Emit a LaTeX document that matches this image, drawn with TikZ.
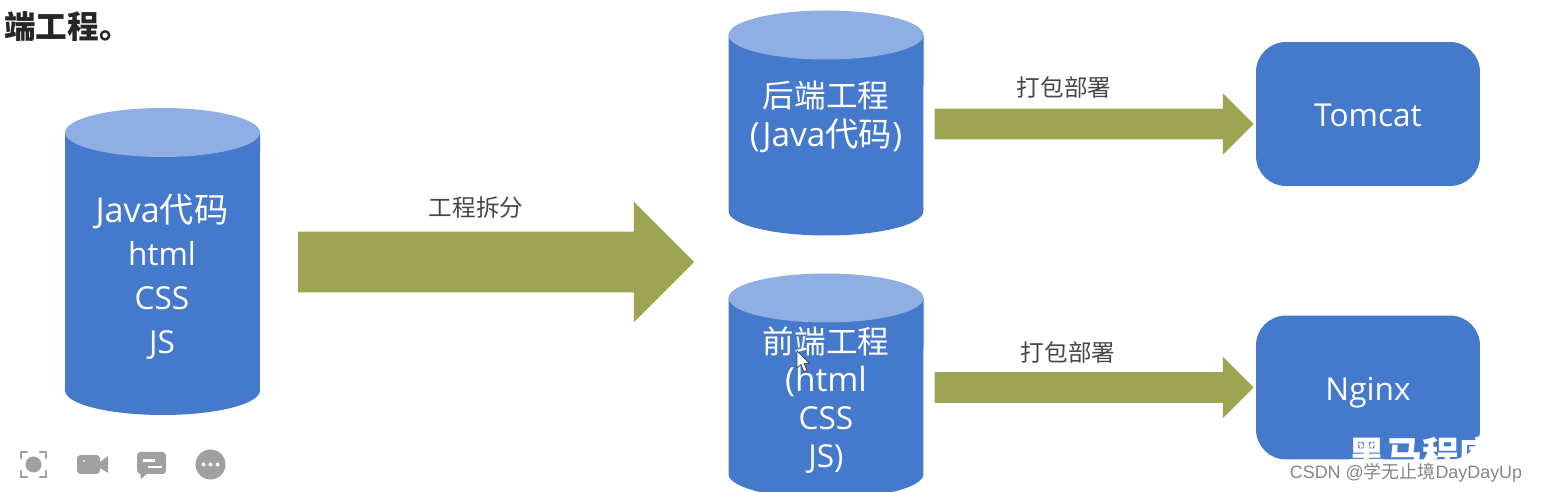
\documentclass[tikz,border=0pt]{standalone}
\usepackage{fontspec}
\setmainfont{Open Sans}
\newfontfamily\cjk{Noto Sans CJK SC}
\newfontfamily\csdnfont{Liberation Sans}
\usetikzlibrary{shapes.arrows}
\definecolor{bodyblue}{HTML}{4479CC}
\definecolor{topblue}{HTML}{8FAEE3}
\definecolor{arrowgreen}{HTML}{9DA553}
\definecolor{icongray}{HTML}{A0A0A2}
\tikzset{
  bigarrow/.style={single arrow,fill=arrowgreen,inner sep=0pt,inner ysep=0.6cm,text height=0pt,text depth=0pt,
    single arrow head extend=0.6cm,minimum height=7.92cm},
  smallarrow/.style={single arrow,fill=arrowgreen,inner sep=0pt,inner ysep=0.3cm,text height=0pt,text depth=0pt,
    single arrow head extend=0.31cm,minimum height=6.38cm},
  serverbox/.style={rounded corners=0.6cm,fill=bodyblue,text=white,font=\fontsize{18}{22}\selectfont,
    minimum width=4.48cm,minimum height=2.88cm,inner sep=0pt,text height=14.8pt,text depth=0pt},
  whitetext/.style={text=white,align=center,font=\fontsize{18}{24.8}\selectfont},
  steplabel/.style={text=black!72,font=\cjk\fontsize{13.4}{16}\selectfont}
}
\begin{document}
\begin{tikzpicture}[x=0.02cm,y=-0.02cm]
\useasboundingbox (0,0) rectangle (1545,492);
\clip (0,0) rectangle (1545,492);
\node [anchor=west,text=black!85,inner sep=0pt,font=\cjk\bfseries\fontsize{18}{20}\selectfont] (title) at (4,27) {端工程。};
% cylinders
\foreach \cx/\ytop/\ybot in {162.5/132.5/390.5, 826/35/211, 826/298/474} {
  \fill [bodyblue] (\cx-97.5,\ytop) -- (\cx-97.5,\ybot) arc [start angle=180,end angle=360,x radius=1.95cm,y radius=0.49cm] -- (\cx+97.5,\ytop) -- cycle;
  \fill [topblue] (\cx,\ytop) ellipse [x radius=1.95cm,y radius=0.49cm];
}
\node [whitetext] (wholetext) at (162,276.5) {{\fontsize{19.5}{24.8}\selectfont Java{\cjk 代码}}\\html\\CSS\\JS};
\node [whitetext,font=\fontsize{18}{22.2}\selectfont] (backendtext) at (826,117) {{\cjk 后端工程}\\{\fontsize{19}{22.2}\selectfont (Java{\cjk 代码})}};
\node [whitetext,font=\fontsize{18}{21.7}\selectfont] (frontendtext) at (826,400) {{\cjk 前端工程}\\{\fontsize{19}{21.7}\selectfont (html}\\CSS\\JS)};
% arrows
\node [bigarrow] (split) at (481,262) {};
\node [smallarrow] (packback) at (1086.5,124) {};
\node [smallarrow] (packfront) at (1086.5,387.5) {};
\node [steplabel] (splitlabel) at (476,208) {工程拆分};
\node [steplabel] (backlabel) at (1064,87) {打包部署};
\node [steplabel] (frontlabel) at (1068,352) {打包部署};
% servers
\node [serverbox] (tomcat) at (1368,114) {Tomcat};
\node [serverbox] (nginx) at (1368,387.5) {Nginx};
\node [text=white,inner sep=0pt,font=\cjk\bfseries\fontsize{21}{24}\selectfont] (brand) at (1422,454) {黑马程序};
\node [text=black!48,inner sep=0pt,font=\csdnfont\fontsize{10.2}{12}\selectfont] (csdn) at (1406,472.5) {CSDN @{\cjk 学无止境}DayDayUp};
% mouse pointer
\draw [black!75,fill=white,line width=0.4pt] (797,351) -- (797,368) -- (801,364.5) -- (804,372) -- (807,370.5) -- (804,363.5) -- (809,363) -- cycle;
% toolbar icons
\draw [icongray,line width=1.6pt,line cap=round] (21,458) -- (21,452) -- (27,452) (40,452) -- (46,452) -- (46,458) (46,471) -- (46,477) -- (40,477) (27,477) -- (21,477) -- (21,471);
\fill [icongray] (33.5,464.5) circle (8);
\fill [icongray,rounded corners=2pt] (77,455) rectangle (100,474);
\fill [icongray] (100,462) -- (108,456) -- (108,473) -- (100,468) -- cycle;
\fill [white] (84,461) circle (1);
\fill [icongray,rounded corners=2pt] (137,452) rectangle (166,474);
\fill [icongray] (140,472) -- (141,479) -- (149,472) -- cycle;
\draw [white,line width=1.2pt] (143,460.5) -- (155,460.5) (148,467) -- (162,467);
\fill [icongray] (210.5,464.5) circle (15);
\fill [white] (203.5,464.5) circle (2) (210.5,464.5) circle (2) (217.5,464.5) circle (2);
\end{tikzpicture}
\end{document}
